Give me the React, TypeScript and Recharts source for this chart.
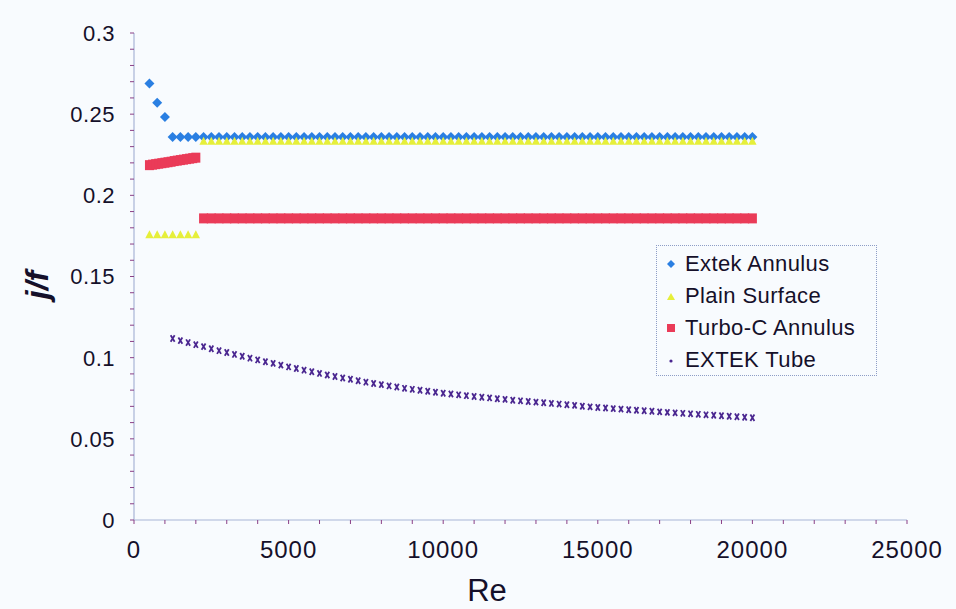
import React from 'react';
import { ScatterChart, Scatter, XAxis, YAxis, Legend } from 'recharts';

// ---------- data ----------
const seriesNames = ['Extek Annulus', 'Plain Surface', 'Turbo-C Annulus', 'EXTEK Tube'];

const reEarly = [500, 750, 1000];
const extekEarly = [0.2689, 0.2570, 0.2483];

const reGrid = [
  1250, 1500, 1750, 2000, 2250, 2500, 2750, 3000, 3250, 3500,
  3750, 4000, 4250, 4500, 4750, 5000, 5250, 5500, 5750, 6000,
  6250, 6500, 6750, 7000, 7250, 7500, 7750, 8000, 8250, 8500,
  8750, 9000, 9250, 9500, 9750, 10000, 10250, 10500, 10750, 11000,
  11250, 11500, 11750, 12000, 12250, 12500, 12750, 13000, 13250, 13500,
  13750, 14000, 14250, 14500, 14750, 15000, 15250, 15500, 15750, 16000,
  16250, 16500, 16750, 17000, 17250, 17500, 17750, 18000, 18250, 18500,
  18750, 19000, 19250, 19500, 19750, 20000,
];

const extekFlat = [
  0.2360, 0.2360, 0.2360, 0.2360, 0.2360, 0.2360, 0.2360, 0.2360, 0.2360, 0.2360,
  0.2360, 0.2360, 0.2360, 0.2360, 0.2360, 0.2360, 0.2360, 0.2360, 0.2360, 0.2360,
  0.2360, 0.2360, 0.2360, 0.2360, 0.2360, 0.2360, 0.2360, 0.2360, 0.2360, 0.2360,
  0.2360, 0.2360, 0.2360, 0.2360, 0.2360, 0.2360, 0.2360, 0.2360, 0.2360, 0.2360,
  0.2360, 0.2360, 0.2360, 0.2360, 0.2360, 0.2360, 0.2360, 0.2360, 0.2360, 0.2360,
  0.2360, 0.2360, 0.2360, 0.2360, 0.2360, 0.2360, 0.2360, 0.2360, 0.2360, 0.2360,
  0.2360, 0.2360, 0.2360, 0.2360, 0.2360, 0.2360, 0.2360, 0.2360, 0.2360, 0.2360,
  0.2360, 0.2360, 0.2360, 0.2360, 0.2360, 0.2360,
];

const plainLowRe = [500, 750, 1000, 1250, 1500, 1750, 2000];
const plainLow = [0.1761, 0.1761, 0.1761, 0.1761, 0.1761, 0.1761, 0.1761];

const reHigh = reGrid.slice(4); // 2250 .. 20000

const plainHigh = [
  0.2336, 0.2336, 0.2336, 0.2336, 0.2336, 0.2336, 0.2336, 0.2336, 0.2336, 0.2336,
  0.2336, 0.2336, 0.2336, 0.2336, 0.2336, 0.2336, 0.2336, 0.2336, 0.2336, 0.2336,
  0.2336, 0.2336, 0.2336, 0.2336, 0.2336, 0.2336, 0.2336, 0.2336, 0.2336, 0.2336,
  0.2336, 0.2336, 0.2336, 0.2336, 0.2336, 0.2336, 0.2336, 0.2336, 0.2336, 0.2336,
  0.2336, 0.2336, 0.2336, 0.2336, 0.2336, 0.2336, 0.2336, 0.2336, 0.2336, 0.2336,
  0.2336, 0.2336, 0.2336, 0.2336, 0.2336, 0.2336, 0.2336, 0.2336, 0.2336, 0.2336,
  0.2336, 0.2336, 0.2336, 0.2336, 0.2336, 0.2336, 0.2336, 0.2336, 0.2336, 0.2336,
  0.2336, 0.2336,
];

const turboLowRe = [500, 600, 700, 800, 900, 1000, 1100, 1200, 1300, 1400, 1500, 1600, 1700, 1800, 1900, 2000];
const turboLow = [
  0.2186, 0.2189, 0.2192, 0.2195, 0.2198, 0.2201, 0.2204, 0.2207,
  0.2211, 0.2214, 0.2217, 0.2220, 0.2223, 0.2226, 0.2229, 0.2232,
];

const turboHigh = [
  0.1858, 0.1858, 0.1858, 0.1858, 0.1858, 0.1858, 0.1858, 0.1858, 0.1858, 0.1858,
  0.1858, 0.1858, 0.1858, 0.1858, 0.1858, 0.1858, 0.1858, 0.1858, 0.1858, 0.1858,
  0.1858, 0.1858, 0.1858, 0.1858, 0.1858, 0.1858, 0.1858, 0.1858, 0.1858, 0.1858,
  0.1858, 0.1858, 0.1858, 0.1858, 0.1858, 0.1858, 0.1858, 0.1858, 0.1858, 0.1858,
  0.1858, 0.1858, 0.1858, 0.1858, 0.1858, 0.1858, 0.1858, 0.1858, 0.1858, 0.1858,
  0.1858, 0.1858, 0.1858, 0.1858, 0.1858, 0.1858, 0.1858, 0.1858, 0.1858, 0.1858,
  0.1858, 0.1858, 0.1858, 0.1858, 0.1858, 0.1858, 0.1858, 0.1858, 0.1858, 0.1858,
  0.1858, 0.1858,
];

const tubeValues = [
  0.1118, 0.1105, 0.1093, 0.1080, 0.1068, 0.1055, 0.1043, 0.1032, 0.1020, 0.1009,
  0.0997, 0.0986, 0.0975, 0.0965, 0.0954, 0.0943, 0.0933, 0.0923, 0.0913, 0.0903,
  0.0893, 0.0884, 0.0875, 0.0867, 0.0858, 0.0849, 0.0841, 0.0834, 0.0826, 0.0819,
  0.0811, 0.0805, 0.0799, 0.0793, 0.0787, 0.0781, 0.0776, 0.0771, 0.0766, 0.0761,
  0.0756, 0.0752, 0.0747, 0.0743, 0.0738, 0.0734, 0.0730, 0.0726, 0.0722, 0.0718,
  0.0714, 0.0710, 0.0706, 0.0701, 0.0697, 0.0693, 0.0690, 0.0686, 0.0683, 0.0679,
  0.0676, 0.0673, 0.0670, 0.0666, 0.0663, 0.0660, 0.0657, 0.0654, 0.0651, 0.0648,
  0.0645, 0.0642, 0.0639, 0.0636, 0.0633, 0.0630,
];

const xTicks = [
  0, 1000, 2000, 3000, 4000, 5000, 6000, 7000, 8000, 9000, 10000, 11000, 12000,
  13000, 14000, 15000, 16000, 17000, 18000, 19000, 20000, 21000, 22000, 23000, 24000, 25000,
];
const xMajorValues = [0, 5000, 10000, 15000, 20000, 25000];
const xMajorLabels = ['0', '5000', '10000', '15000', '20000', '25000'];
const yTicks = [
  0, 0.01, 0.02, 0.03, 0.04, 0.05, 0.06, 0.07, 0.08, 0.09, 0.1,
  0.11, 0.12, 0.13, 0.14, 0.15, 0.16, 0.17, 0.18, 0.19, 0.2,
  0.21, 0.22, 0.23, 0.24, 0.25, 0.26, 0.27, 0.28, 0.29, 0.3,
];
const yMajorLabels = ['0', '0.05', '0.1', '0.15', '0.2', '0.25', '0.3'];

// ---------- build point tables ----------
const zip = (xs: number[], ys: number[]) => xs.map((x, i) => ({ x, y: ys[i] }));
const extekData = [...zip(reEarly, extekEarly), ...zip(reGrid, extekFlat)];
const plainData = [...zip(plainLowRe, plainLow), ...zip(reHigh, plainHigh)];
const turboData = [...zip(turboLowRe, turboLow), ...zip(reHigh, turboHigh)];
const tubeData = zip(reGrid, tubeValues);

// ---------- styles ----------
const FONT = '"Liberation Sans", Arial, Helvetica, sans-serif';
const TEXT = '#15102a';
const C_BLUE = '#2a7fe2';
const C_YELLOW = '#e6ef3a';
const C_RED = '#ea3b58';
const C_PURPLE = '#4a2690';

const Diamond = (p: any) => {
  const { cx, cy } = p;
  if (cx == null || cy == null) return <g />;
  const r = 5;
  return <path d={`M${cx},${cy - r}L${cx + r},${cy}L${cx},${cy + r}L${cx - r},${cy}Z`} fill={C_BLUE} />;
};
const Triangle = (p: any) => {
  const { cx, cy } = p;
  if (cx == null || cy == null) return <g />;
  return <path d={`M${cx},${cy - 4}L${cx + 4.2},${cy + 4}L${cx - 4.2},${cy + 4}Z`} fill={C_YELLOW} />;
};
const Square = (p: any) => {
  const { cx, cy } = p;
  if (cx == null || cy == null) return <g />;
  return <rect x={cx - 4.5} y={cy - 5} width={9} height={10} fill={C_RED} />;
};
const Cross = (p: any) => {
  const { cx, cy } = p;
  if (cx == null || cy == null) return <g />;
  return (
    <path
      d={`M${cx - 2},${cy - 3.2}L${cx + 2},${cy + 3.2}M${cx + 2},${cy - 3.2}L${cx - 2},${cy + 3.2}`}
      stroke={C_PURPLE}
      strokeWidth={1.8}
      fill="none"
    />
  );
};

const XTick = (props: any) => {
  const { x, y, payload } = props;
  const idx = xMajorValues.indexOf(payload.value);
  if (idx < 0) return <g />;
  return (
    <text x={x} y={y + 32} textAnchor="middle" fontSize={24} letterSpacing={1} fontFamily={FONT} fill={TEXT}>
      {xMajorLabels[idx]}
    </text>
  );
};

const YTick = (props: any) => {
  const { x, y, payload } = props;
  const v = payload.value as number;
  const k = Math.round(v / 0.05);
  if (Math.abs(v - k * 0.05) > 1e-6) return <g />;
  return (
    <text x={x - 13} y={y} dy="0.36em" textAnchor="end" fontSize={22} letterSpacing={0.5} fontFamily={FONT} fill={TEXT}>
      {yMajorLabels[k]}
    </text>
  );
};

const legendMarkers = [
  <svg width={12} height={12}><path d="M6,2L10,6L6,10L2,6Z" fill={C_BLUE} /></svg>,
  <svg width={12} height={12}><path d="M6,3L10,10L2,10Z" fill={C_YELLOW} /></svg>,
  <svg width={12} height={12}><rect x={2} y={2} width={8} height={8} fill={C_RED} /></svg>,
  <svg width={12} height={12}><circle cx={6} cy={7} r={1.6} fill={C_PURPLE} /></svg>,
];

const LegendBox = () => (
  <div
    style={{
      width: 221,
      height: 131,
      boxSizing: 'border-box',
      border: '1px dotted #8e9dc6',
      paddingTop: 2,
      fontFamily: FONT,
      color: TEXT,
    }}
  >
    {seriesNames.map((n, i) => (
      <div key={n} style={{ height: 32, display: 'flex', alignItems: 'center' }}>
        <div style={{ width: 28, display: 'flex', justifyContent: 'center' }}>{legendMarkers[i]}</div>
        <span style={{ fontSize: 22, letterSpacing: 0.4, whiteSpace: 'nowrap' }}>{n}</span>
      </div>
    ))}
  </div>
);

export default function App() {
  return (
    <div style={{ position: 'absolute', left: 0, top: 0, width: 956, height: 609, background: '#f8fbfe' }}>
      <ScatterChart width={956} height={609} margin={{ top: 33, right: 49, bottom: 29, left: 0 }}>
        <XAxis
          type="number"
          dataKey="x"
          domain={[0, 25000]}
          ticks={xTicks}
          interval={0}
          height={60}
          tick={<XTick />}
          tickSize={4}
          axisLine={{ stroke: '#a8b5d6', strokeWidth: 1.2 }}
          tickLine={{ stroke: '#8a3f86' }}
          label={{
            content: () => (
              <text x={487} y={601} textAnchor="middle" fontSize={31} fontFamily={FONT} fill={TEXT}>
                Re
              </text>
            ),
          }}
        />
        <YAxis
          type="number"
          dataKey="y"
          domain={[0, 0.3]}
          ticks={yTicks}
          interval={0}
          width={134}
          tick={<YTick />}
          tickSize={4}
          axisLine={{ stroke: '#a8b5d6', strokeWidth: 1.2 }}
          tickLine={{ stroke: '#8a3f86' }}
          label={{
            content: () => (
              <text
                x={37}
                y={285}
                dy="0.35em"
                textAnchor="middle"
                fontSize={32}
                fontStyle="italic"
                fontWeight="bold"
                fontFamily={FONT}
                fill={TEXT}
                transform="rotate(-90 37 285)"
              >
                j/f
              </text>
            ),
          }}
        />
        <Legend
          layout="horizontal"
          verticalAlign="middle"
          align="center"
          wrapperStyle={{ position: 'absolute', left: 656, top: 245, width: 221, height: 131 }}
          content={() => <LegendBox />}
        />
        <Scatter name={seriesNames[0]} data={extekData} shape={Diamond} isAnimationActive={false} />
        <Scatter name={seriesNames[1]} data={plainData} shape={Triangle} isAnimationActive={false} />
        <Scatter name={seriesNames[2]} data={turboData} shape={Square} isAnimationActive={false} />
        <Scatter name={seriesNames[3]} data={tubeData} shape={Cross} isAnimationActive={false} />
      </ScatterChart>
    </div>
  );
}
